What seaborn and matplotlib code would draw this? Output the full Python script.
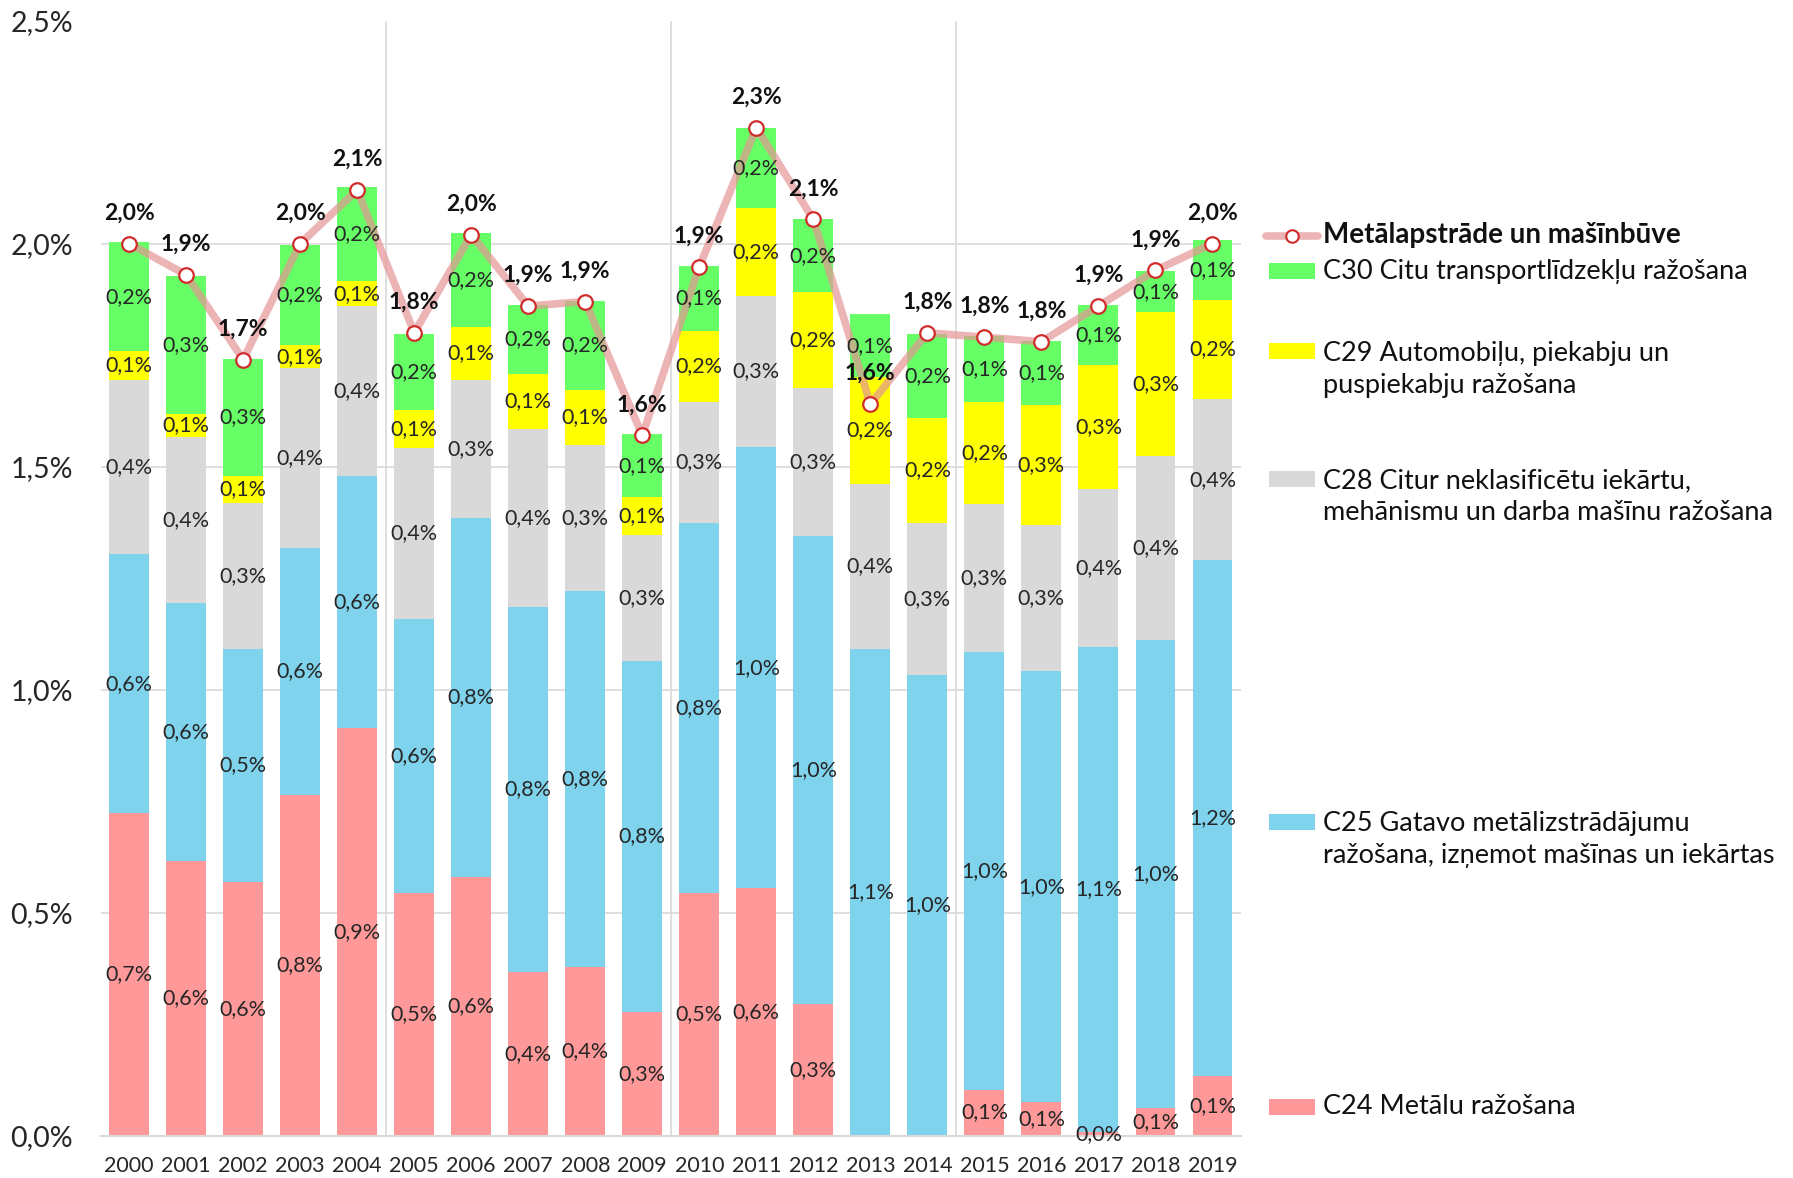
import numpy as np
import matplotlib
matplotlib.use("Agg")
import matplotlib.pyplot as plt
import seaborn as sns
from matplotlib.patches import Rectangle
from matplotlib.lines import Line2D

# dati (% no kopējās pievienotās vērtības)
years = [str(y) for y in range(2000, 2020)]
c24 = [0.723, 0.615, 0.569, 0.764, 0.913, 0.544, 0.579, 0.367, 0.377, 0.277,
       0.544, 0.554, 0.295, 0.0, 0.0, 0.103, 0.074, 0.008, 0.062, 0.133]
c25 = [0.580, 0.580, 0.523, 0.554, 0.566, 0.615, 0.806, 0.818, 0.844, 0.787,
       0.830, 0.990, 1.049, 1.092, 1.033, 0.982, 0.967, 1.087, 1.048, 1.157]
c28 = [0.392, 0.372, 0.326, 0.403, 0.380, 0.382, 0.310, 0.400, 0.328, 0.282,
       0.270, 0.338, 0.333, 0.370, 0.341, 0.330, 0.328, 0.354, 0.413, 0.361]
c29 = [0.064, 0.051, 0.061, 0.051, 0.056, 0.085, 0.118, 0.123, 0.123, 0.085,
       0.161, 0.197, 0.215, 0.238, 0.234, 0.229, 0.269, 0.279, 0.323, 0.223]
c30 = [0.244, 0.310, 0.262, 0.225, 0.211, 0.171, 0.210, 0.155, 0.200, 0.141,
       0.144, 0.180, 0.162, 0.142, 0.189, 0.148, 0.144, 0.134, 0.092, 0.134]
total = [2.00, 1.93, 1.74, 2.00, 2.12, 1.80, 2.02, 1.86, 1.87, 1.57,
         1.948, 2.26, 2.054, 1.64, 1.80, 1.79, 1.78, 1.86, 1.94, 2.00]

names = ["C24 Metālu ražošana",
         "C25 Gatavo metālizstrādājumu\nražošana, izņemot mašīnas un iekārtas",
         "C28 Citur neklasificētu iekārtu,\nmehānismu un darba mašīnu ražošana",
         "C29 Automobiļu, piekabju un\npuspiekabju ražošana",
         "C30 Citu transportlīdzekļu ražošana"]
line_name = "Metālapstrāde un mašīnbūve"
colors = ["#FF9999", "#7FD3EC", "#D9D9D9", "#FFFF00", "#66FF66"]

sns.set_theme(style="white")
plt.rcParams['font.family'] = ['Lato', 'DejaVu Sans']

W, H = 1793, 1178
fig = plt.figure(figsize=(W / 100, H / 100), dpi=100)
ax = fig.add_axes([100.6 / W, 1 - 1135.5 / H, (1241 - 100.6) / W, (1135.5 - 20.6) / H])

layers = np.array([c24, c25, c28, c29, c30])
cum = np.cumsum(layers, axis=0)

# stacked bars: draw tallest first, each lower layer on top
for i in reversed(range(5)):
    sns.barplot(x=years, y=cum[i], color=colors[i], saturation=1, width=0.7,
                errorbar=None, linewidth=0, ax=ax, zorder=2)

# segment labels
for i in range(5):
    for j, v in enumerate(layers[i]):
        if v <= 0:
            continue
        mid = cum[i][j] - v / 2
        ax.text(j, mid, f"{v:.1f}%".replace(".", ","), ha="center", va="center",
                fontsize=15.5, color="#262626", zorder=6)

xpos = np.arange(len(years))
sns.lineplot(x=xpos, y=total, color="#E49494", lw=5.5, alpha=0.7, ax=ax,
             zorder=4, legend=False)
sns.scatterplot(x=xpos, y=total, color="white", edgecolor="#D02C2C", s=110,
                linewidth=1.6, ax=ax, zorder=5, legend=False)
for j, t in enumerate(total):
    ax.annotate(f"{t:.1f}%".replace(".", ","), (j, t), xytext=(0, 22),
                textcoords="offset points", ha="center", va="center",
                fontsize=16.5, fontweight="bold", color="#111111", zorder=7)

ax.set_xlim(-0.5, 19.5)
ax.set_ylim(0, 2.5)
yt = [0, 0.5, 1.0, 1.5, 2.0, 2.5]
ax.set_yticks(yt)
ax.set_yticklabels([f"{v:.1f}%".replace(".", ",") for v in yt], fontsize=20.5, color="#262626")
ax.set_xticks(xpos)
ax.set_xticklabels(years, fontsize=15.5, color="#262626")
ax.tick_params(axis="y", length=0, pad=20)
ax.tick_params(axis="x", length=0, pad=15)
ax.set_xlabel("")
ax.set_ylabel("")
for v in [0.5, 1.0, 1.5, 2.0]:
    ax.axhline(v, color="#D9D9D9", lw=1.2, zorder=0)
for x in [4.5, 9.5, 14.5]:
    ax.axvline(x, color="#D9D9D9", lw=1.2, zorder=0)
for s in ["top", "left", "right"]:
    ax.spines[s].set_visible(False)
ax.spines["bottom"].set_color("#D9D9D9")
ax.spines["bottom"].set_linewidth(1.5)

# legend (Excel-style spread on the right)
def fx(px):
    return px / W

def fy(py):
    return 1 - py / H

tx = 1323
ly = 235.5
fig.add_artist(Line2D([fx(1266), fx(1318)], [fy(ly), fy(ly)], color="#E49494",
                      lw=5.5, alpha=0.7, transform=fig.transFigure))
fig.add_artist(Line2D([fx(1292)], [fy(ly)], marker="o", markersize=9,
                      markerfacecolor="white", markeredgecolor="#D02C2C",
                      markeredgewidth=1.5, transform=fig.transFigure))
fig.text(fx(tx), fy(ly), line_name, fontsize=20, fontweight="bold",
         va="center", ha="left", color="#111111")

leg_rows = [(4, 271, 271), (3, 351, 369), (2, 479, 497), (1, 822, 840), (0, 1107, 1107)]
for idx, first_y, mid_y in leg_rows:
    fig.add_artist(Rectangle((fx(1269), fy(first_y + 8)), fx(46), 16 / H,
                             facecolor=colors[idx], edgecolor="none",
                             transform=fig.transFigure))
    fig.text(fx(tx), fy(mid_y), names[idx], fontsize=19.5, va="center", ha="left",
             color="#111111", linespacing=1.35)

fig.savefig("out.png", dpi=100)
